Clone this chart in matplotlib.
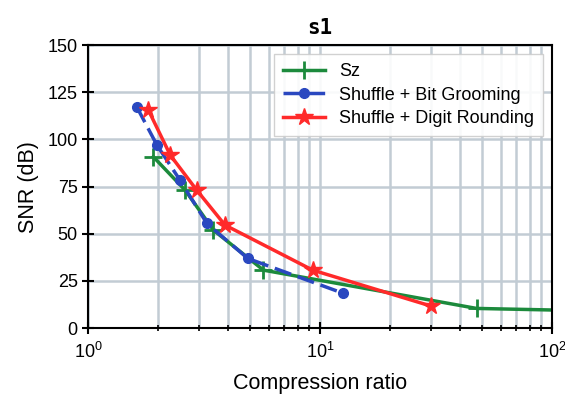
import matplotlib
matplotlib.use("Agg")
import matplotlib.pyplot as plt

plt.rcParams["font.family"] = ["Liberation Sans", "DejaVu Sans"]

# Sz
sz_cr = [1.91, 2.62, 3.47, 5.7, 47.3, 200]
sz_snr = [90.8, 73.1, 51.9, 30.7, 10.4, 8.8]

# Shuffle + Bit Grooming
bg_cr = [1.62, 1.98, 2.49, 3.25, 4.88, 12.6]
bg_snr = [117.3, 97.0, 78.4, 55.5, 36.9, 18.4]

# Shuffle + Digit Rounding
dr_cr = [1.82, 2.26, 2.94, 3.89, 9.3, 30.0]
dr_snr = [115.5, 91.7, 73.1, 54.6, 30.7, 11.7]

fig = plt.figure(figsize=(5.65, 4.07), dpi=100)
ax = fig.add_axes([0.156, 0.194, 0.821, 0.695])

ax.plot(sz_cr, sz_snr, color="#1c8a3c", lw=2.5, marker="+", ms=13, mew=2,
        label="Sz")
ax.plot(bg_cr, bg_snr, color="#2a48c0", lw=2.5, ls="--", dashes=(5, 2),
        marker="o", ms=7, label="Shuffle + Bit Grooming")
ax.plot(dr_cr, dr_snr, color="#ff2a2a", lw=2.5, marker="*", ms=13,
        label="Shuffle + Digit Rounding")

ax.set_xscale("log")
ax.set_xlim(1, 100)
ax.set_ylim(0, 150)
ax.set_yticks([0, 25, 50, 75, 100, 125, 150])

ax.grid(True, which="both", axis="x", color="#c2ccd4", lw=1.8)
ax.grid(True, which="major", axis="y", color="#c2ccd4", lw=1.8)
ax.set_axisbelow(True)

ax.tick_params(which="major", direction="inout", length=8, width=1.5, labelsize=13)
ax.tick_params(which="minor", direction="inout", length=5, width=1.2)
ax.tick_params(axis="x", pad=6)
for s in ax.spines.values():
    s.set_linewidth(1.5)

ax.set_xlabel("Compression ratio", fontsize=15.5, labelpad=8)
ax.set_ylabel("SNR (dB)", fontsize=15.5, labelpad=6)
ax.set_title("s1", fontsize=15, family="DejaVu Sans Mono", fontweight="bold", pad=8)

ax.legend(loc="upper right", fontsize=13, handlelength=2.3, framealpha=0.9,
          edgecolor="#cccccc", fancybox=False, borderpad=0.5, labelspacing=0.35)

fig.savefig("out.png", dpi=100)
